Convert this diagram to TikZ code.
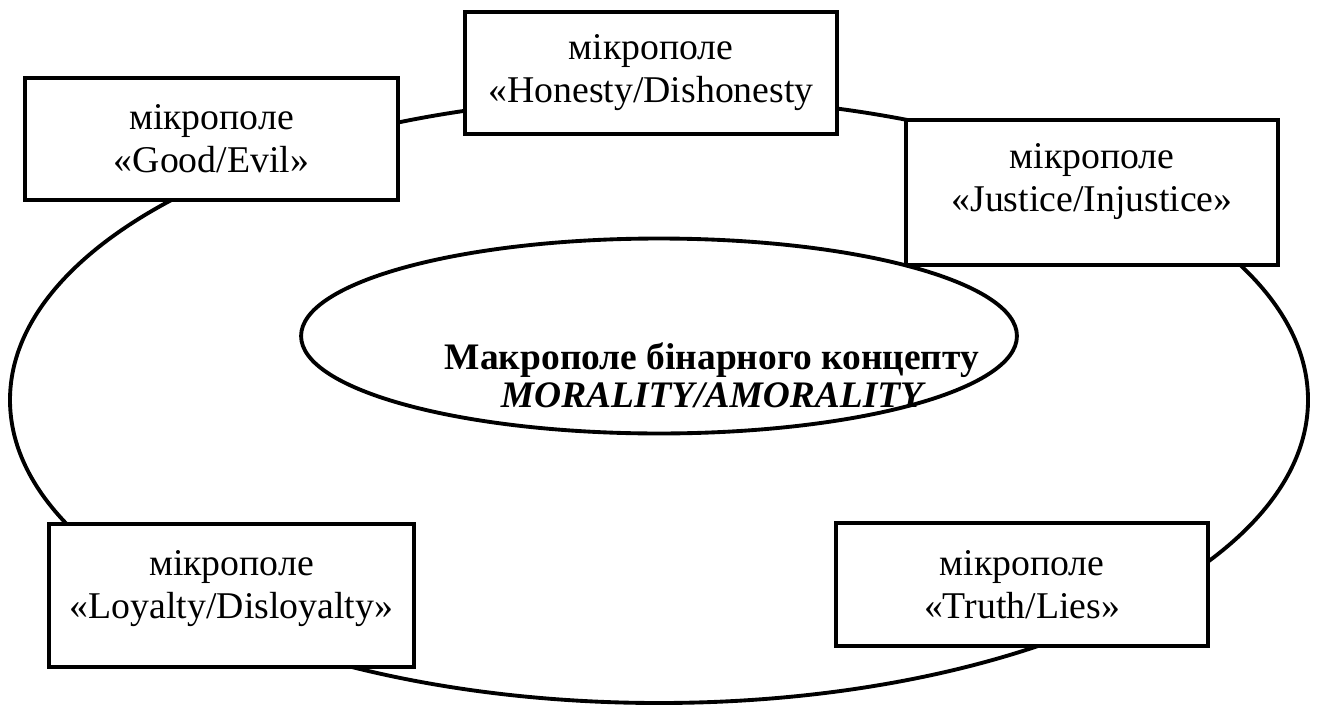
\documentclass[tikz,border=0pt]{standalone}
\usepackage{fontspec}
\setmainfont{Liberation Serif}
\usetikzlibrary{shapes.geometric}
\tikzset{
  micro/.style={draw, fill=white, align=center, inner sep=0pt, line width=2.6pt,
    font=\fontsize{21.5}{24.5}\selectfont},
  macro/.style={draw, ellipse, inner sep=0pt, line width=2.2pt},
  macrotext/.style={align=center, inner sep=0pt,
    font=\fontsize{21.3}{21.8}\selectfont\bfseries}
}
\begin{document}
\begin{tikzpicture}[x=0.02cm, y=-0.02cm, line width=2.2pt]
\useasboundingbox (0,0) rectangle (1317,706);
\draw (659,400) ellipse [x radius=649, y radius=303];
\node [macro, minimum width=14.32cm, minimum height=3.9cm] (macro) at (659,336) {};
\node [macrotext] (title) at (712,375)
  {Макрополе бінарного концепту\\ \itshape MORALITY/AMORALITY};
\node [micro, minimum width=7.46cm, minimum height=2.44cm] (good) at (211.5,139)
  {мікрополе\\«Good/Evil»};
\node [micro, minimum width=7.44cm, minimum height=2.44cm] (honesty) at (651,73)
  {мікрополе\\«Honesty/Dishonesty};
\node [micro, minimum width=7.44cm, minimum height=2.90cm, text depth=0.6cm] (justice) at (1092,192.5)
  {мікрополе\\«Justice/Injustice»};
\node [micro, minimum width=7.30cm, minimum height=2.86cm, text depth=0.44cm] (loyalty) at (231.5,595.5)
  {мікрополе\\«Loyalty/Disloyalty»};
\node [micro, minimum width=7.44cm, minimum height=2.46cm] (truth) at (1022,584.5)
  {мікрополе\\«Truth/Lies»};
\end{tikzpicture}
\end{document}
